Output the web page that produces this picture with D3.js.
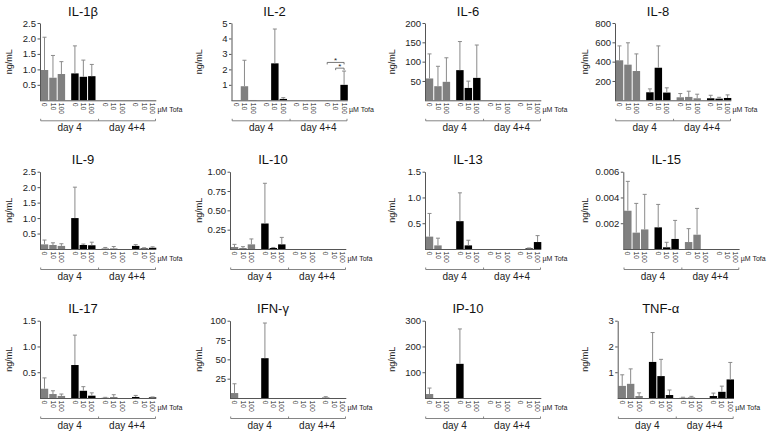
<!DOCTYPE html>
<html><head><meta charset="utf-8">
<script src="https://cdn.jsdelivr.net/npm/d3@7/dist/d3.min.js"></script>
<style>
body{margin:0;background:#fff}
svg{display:block}
text{font-family:"Liberation Sans",Arial,sans-serif}
</style>
</head><body>
<svg id="chart" width="770" height="433"></svg>
<script>
// ---------- data ----------
const cytokines = ["IL-1β","IL-2","IL-6","IL-8","IL-9","IL-10","IL-13","IL-15","IL-17","IFN-γ","IP-10","TNF-α"];
const groups = ["day4-ctrl","day4-stim","day44-ctrl","day44-stim"];
const doses = ["0","10","100"];
const days = ["day 4","day 4+4"];
const unitLabel = "ng/mL";
const doseLabel = "µM Tofa";
const yMax = [2.5,5,200,800,2.5,1,1.5,0.006,1.5,100,300,3];
const yTicks = [
  [0.5,1,1.5,2,2.5],[1,2,3,4,5],[50,100,150,200],[200,400,600,800],
  [0.5,1,1.5,2,2.5],[0.25,0.5,0.75,1],[0.5,1,1.5],[0.002,0.004,0.006],
  [0.5,1,1.5],[25,50,75,100],[100,200,300],[1,2,3]
];
const tickFormats = [".1f","d","d","d",".1f",".2f",".1f",".3f",".1f","d","d","d"];
// order: day4 ctrl 0/10/100, day4 stim 0/10/100, day4+4 ctrl 0/10/100, day4+4 stim 0/10/100
const means = [
  [0.98,0.73,0.85,0.87,0.76,0.78,0,0,0,0,0,0],
  [0,0.91,0.02,0,2.39,0.09,0,0,0,0,0,1.0],
  [56.5,36.5,47.8,78,32,58,0,0,0,0,0,0],
  [414,369,303,83,337,80,31,35,21,21,17,24],
  [0.15,0.13,0.10,1.0,0.13,0.12,0.02,0.02,0,0.1,0.02,0.04],
  [0.026,0.013,0.06,0.33,0.013,0.06,0,0,0,0,0,0],
  [0.24,0.07,0,0.54,0.07,0,0,0,0,0,0.013,0.135],
  [0.00297,0.00127,0.00152,0.00168,0.00013,0.00078,0.00054,0.00111,0,0,0,0],
  [0.18,0.077,0.04,0.64,0.14,0.045,0.006,0.02,0,0.02,0,0.013],
  [6.4,0,0,51.5,0,0,0,0,0,0.4,0,0],
  [15.4,0,0,132.6,0,0,0,0,0,0,0,0],
  [0.47,0.55,0.077,1.40,0.85,0.115,0.01,0.026,0,0.077,0.24,0.72]
];
const errTops = [
  [2.04,1.45,1.25,1.76,1.30,1.16,0,0,0,0,0,0],
  [0,2.59,0,0,4.61,0.17,0,0,0,0,0,1.89],
  [120,88,110,152,49.6,143,0,0,0,0,0,0],
  [563,595,480,118,563,129,70,94,63,52,31,56],
  [0.29,0.2,0.17,2.0,0.16,0.22,0.05,0.08,0,0.14,0.04,0.07],
  [0.06,0.03,0.13,0.85,0.02,0.15,0,0,0,0,0,0],
  [0.69,0.21,0,1.09,0.17,0,0,0,0,0,0.02,0.26],
  [0.00525,0.00354,0.00424,0.00346,0.00052,0.00222,0.00158,0.00315,0,0,0,0],
  [0.39,0.14,0.077,1.22,0.22,0.1,0.013,0.064,0,0.05,0,0.02],
  [18.4,0,0,97,0,0,0,0,0,1.7,0,0],
  [38.6,0,0,268,0,0,0,0,0,0,0,0],
  [0.90,1.13,0.2,2.54,1.5,0.31,0.03,0.064,0,0.19,0.46,1.38]
];
// significance brackets (panel index, group, from dose, to dose, level in data units)
const sigPanel = [1,1];
const sigGroup = [3,3];
const sigFrom = [0,1];
const sigTo = [2,2];
const sigLevel = [2.45,2.08];

// ---------- layout ----------
const axisX = [40,231.5,425,615,40,230,425,623.3,40,230,425,617.7];
const yLabX = [9,198.5,392,585];
const rowTop = [23,171.7,320.7];
const plotH = 77.3;
const groupColor = ["#808080","#000","#808080","#000"];

const svg = d3.select("#chart");

cytokines.forEach((name,p)=>{
  const col = p%4, row = Math.floor(p/4);
  const ax = axisX[p], top = rowTop[row], base = top+plotH;
  const g = svg.append("g");
  const y = d3.scaleLinear().domain([0,yMax[p]]).range([base,top]);
  const xg = d3.scaleBand().domain(d3.range(4)).range([ax+0.8, ax+116.3]).paddingInner(0.2).paddingOuter(0);
  const xd = d3.scaleBand().domain(doses).range([0,xg.bandwidth()]).paddingInner(0.12).paddingOuter(0);

  // title
  g.append("text").attr("x",ax+43).attr("y",top-12).attr("dy","0.35em")
    .attr("text-anchor","middle").attr("font-size",13).attr("fill","#111").text(name);
  // y label
  g.append("text").attr("transform",`translate(${yLabX[col]},${top+plotH/2}) rotate(-90)`)
    .attr("dy","0.35em").attr("text-anchor","middle").attr("font-size",9).attr("fill","#222").text(unitLabel);

  // bars
  const data = means[p].map((v,i)=>({v, e:errTops[p][i], grp:Math.floor(i/3), dose:doses[i%3]}));
  const bx = d=> xg(d.grp)+xd(d.dose);
  g.selectAll("rect.bar").data(data.filter(d=>d.v>0)).join("rect")
    .attr("x",bx).attr("width",xd.bandwidth())
    .attr("y",d=>y(d.v)).attr("height",d=>base-y(d.v))
    .attr("fill",d=>groupColor[d.grp]);
  // error bars
  const eb = data.filter(d=>d.e>d.v);
  const cx = d=> bx(d)+xd.bandwidth()/2;
  g.selectAll("line.ev").data(eb).join("line")
    .attr("x1",cx).attr("x2",cx).attr("y1",d=>y(d.v)).attr("y2",d=>y(d.e))
    .attr("stroke","#8a8a8a").attr("stroke-width",1);
  g.selectAll("line.ec").data(eb).join("line")
    .attr("x1",d=>cx(d)-2).attr("x2",d=>cx(d)+2).attr("y1",d=>y(d.e)).attr("y2",d=>y(d.e))
    .attr("stroke","#8a8a8a").attr("stroke-width",1);

  // y axis
  const yAxis = d3.axisLeft(y).tickValues(yTicks[p]).tickFormat(d3.format(tickFormats[p]))
    .tickSize(2.5).tickSizeOuter(0).tickPadding(1.5);
  const ya = g.append("g").attr("transform",`translate(${ax},0)`).call(yAxis);
  ya.select(".domain").attr("stroke","#555");
  ya.selectAll(".tick line").attr("stroke","#555");
  ya.selectAll(".tick text").attr("font-size",9.5).attr("fill","#222").attr("font-family",null);

  // x axis baseline
  g.append("line").attr("x1",ax).attr("x2",ax+116.3).attr("y1",base+0.5).attr("y2",base+0.5)
    .attr("stroke","#555");
  // dose labels
  g.selectAll("text.dose").data(data).join("text")
    .attr("transform",d=>`translate(${cx(d)},${base+2.5}) rotate(90)`)
    .attr("dy","0.35em").attr("font-size",6.8).attr("fill","#222").text(d=>d.dose);
  g.append("text").attr("x",ax+117.5).attr("y",base+9.5).attr("dy","0.35em")
    .attr("font-size",7).attr("fill","#222").text(doseLabel);

  // day bracket
  const by = base+20.5;
  const x0 = ax+0.7, x1 = ax+115.5;
  const mid = (xg(1)+xg.bandwidth()+xg(2))/2;
  g.append("path").attr("d",`M${x0},${by-2}V${by}H${x1}V${by-2}M${mid},${by}V${by-2}`)
    .attr("fill","none").attr("stroke","#777").attr("stroke-width",0.9);
  g.append("text").attr("x",(x0+mid)/2).attr("y",by+7).attr("dy","0.35em").attr("text-anchor","middle")
    .attr("font-size",10).attr("fill","#222").text(days[0]);
  g.append("text").attr("x",(mid+x1)/2).attr("y",by+7).attr("dy","0.35em").attr("text-anchor","middle")
    .attr("font-size",10).attr("fill","#222").text(days[1]);

  // significance
  sigPanel.forEach((sp,k)=>{
    if(sp!==p) return;
    const xa = xg(sigGroup[k])+xd(doses[sigFrom[k]])+xd.bandwidth()/2;
    const xb = xg(sigGroup[k])+xd(doses[sigTo[k]])+xd.bandwidth()/2;
    const yy = y(sigLevel[k]);
    g.append("path").attr("d",`M${xa},${yy+2}V${yy}H${xb}V${yy+2}`)
      .attr("fill","none").attr("stroke","#555").attr("stroke-width",0.8);
    g.append("text").attr("x",(xa+xb)/2).attr("y",yy+1).attr("text-anchor","middle")
      .attr("font-size",8).attr("fill","#222").text("*");
  });
});
</script>
</body></html>
